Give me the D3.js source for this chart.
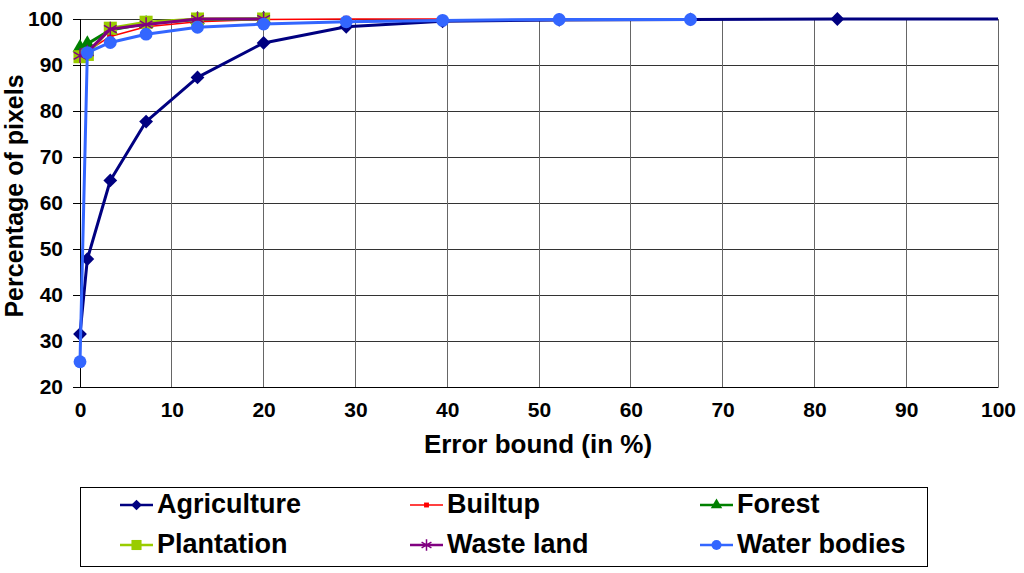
<!DOCTYPE html>
<html>
<head>
<meta charset="utf-8">
<script src="https://cdn.jsdelivr.net/npm/d3@7"></script>
<style>
  html, body { margin: 0; padding: 0; background: #fff; }
  svg { display: block; font-family: "Liberation Sans", Arial, sans-serif; font-weight: bold; }
</style>
</head>
<body>
<svg id="chart" width="1024" height="573"></svg>
<script>
// ---- data ----
const seriesNames = ["Agriculture", "Builtup", "Forest", "Plantation", "Waste land", "Water bodies"];
const agricultureX = [0, 0.8, 3.3, 7.2, 12.8, 20, 29, 39.5, 52.2, 66.5, 82.5, 100];
const agricultureY = [31.5, 47.8, 64.9, 77.7, 87.3, 94.8, 98.3, 99.5, 99.8, 99.9, 100, 100];
const builtupX = [0, 0.8, 3.3, 7.2, 12.8, 20, 29, 39.5];
const builtupY = [92.0, 93.0, 96.2, 98.3, 99.4, 99.9, 100, 100];
const forestX = [0, 0.8, 3.3, 7.2, 12.8, 20];
const forestY = [93.8, 94.6, 97.6, 99.0, 99.9, 100];
const plantationX = [0, 0.8, 3.3, 7.2, 12.8, 20];
const plantationY = [91.8, 92.3, 98.0, 99.3, 100, 100];
const wastelandX = [0, 0.8, 3.3, 7.2, 12.8, 20];
const wastelandY = [92.0, 92.8, 97.8, 98.8, 100, 100];
const waterX = [0, 0.8, 3.3, 7.2, 12.8, 20, 29, 39.5, 52.2, 66.5];
const waterY = [25.5, 92.7, 94.9, 96.7, 98.2, 98.9, 99.4, 99.7, 99.9, 99.9];
const xTicks = [0, 10, 20, 30, 40, 50, 60, 70, 80, 90, 100];
const yTicks = [20, 30, 40, 50, 60, 70, 80, 90, 100];
const xTitle = "Error bound (in %)";
const yTitle = "Percentage of pixels";

// ---- styles ----
const styles = {
  "Agriculture":  { color: "#000080", width: 3,   symbol: d3.symbolSquare,   size: 95,  rot: 45, stroke: null },
  "Builtup":      { color: "#FF0000", width: 1.5, symbol: d3.symbolSquare,   size: 40,  rot: 0,  stroke: null },
  "Forest":       { color: "#008000", width: 3,   symbol: d3.symbolTriangle, size: 95,  rot: 0,  stroke: null },
  "Plantation":   { color: "#99CC00", width: 3,   symbol: d3.symbolSquare,   size: 170, rot: 0,  stroke: null },
  "Waste land":   { color: "#800080", width: 3,   symbol: d3.symbolAsterisk, size: 150, rot: 0,  stroke: "#800080" },
  "Water bodies": { color: "#3366FF", width: 3,   symbol: d3.symbolCircle,   size: 130, rot: 0,  stroke: null }
};
const seriesData = [
  [agricultureX, agricultureY],
  [builtupX, builtupY],
  [forestX, forestY],
  [plantationX, plantationY],
  [wastelandX, wastelandY],
  [waterX, waterY]
].map(([xs, ys], i) => ({ name: seriesNames[i], pts: xs.map((x, j) => ({ x, y: ys[j] })) }));

const svg = d3.select("#chart");
const L = 80, R = 998, T = 19, B = 387;
const x = d3.scaleLinear().domain([0, 100]).range([L, R]);
const y = d3.scaleLinear().domain([20, 100]).range([B, T]);

// grid
svg.append("g").selectAll("line").data(yTicks).join("line")
  .attr("x1", L).attr("x2", R).attr("y1", d => y(d)).attr("y2", d => y(d))
  .attr("stroke", "#333").attr("stroke-width", 1).attr("shape-rendering", "crispEdges");
svg.append("g").selectAll("line").data(xTicks).join("line")
  .attr("x1", d => x(d)).attr("x2", d => x(d)).attr("y1", T).attr("y2", B)
  .attr("stroke", d => d === 0 ? "#000" : "#666").attr("stroke-width", 1).attr("shape-rendering", "crispEdges");

// axes
const yAxis = svg.append("g").attr("transform", `translate(${L},0)`)
  .call(d3.axisLeft(y).tickValues(yTicks).tickSize(7).tickPadding(10).tickFormat(d3.format("d")));
const xAxis = svg.append("g").attr("transform", `translate(0,${B})`)
  .call(d3.axisBottom(x).tickValues(xTicks).tickSize(0).tickPadding(23).tickFormat(d3.format("d")));
[yAxis, xAxis].forEach(a => {
  a.select(".domain").attr("stroke", "#000").attr("stroke-width", 1);
  a.selectAll(".tick line").attr("stroke", "#000");
  a.selectAll("text").attr("fill", "#000").style("font-size", "21px").style("font-weight", "bold")
    .style("font-family", "'Liberation Sans', Arial, sans-serif");
});
xAxis.selectAll("text").attr("dy", "0.35em");

// titles
svg.append("text").attr("x", 538).attr("y", 446).attr("text-anchor", "middle")
  .attr("dominant-baseline", "middle").style("font-size", "26px").text(xTitle);
svg.append("text").attr("transform", `translate(16,196) rotate(-90)`)
  .attr("text-anchor", "middle").attr("dominant-baseline", "middle")
  .style("font-size", "25px").text(yTitle);

// lines & markers
const line = d3.line().x(d => x(d.x)).y(d => y(d.y));
seriesData.forEach(s => {
  const st = styles[s.name];
  const g = svg.append("g");
  g.append("path").attr("d", line(s.pts)).attr("fill", "none")
    .attr("stroke", st.color).attr("stroke-width", st.width).attr("stroke-linejoin", "round");
  g.selectAll("path.m").data(s.pts.filter(d => d.x < 100)).join("path").attr("class", "m")
    .attr("transform", d => `translate(${x(d.x)},${y(d.y)}) rotate(${st.rot})`)
    .attr("d", d3.symbol().type(st.symbol).size(st.size))
    .attr("fill", st.stroke ? "none" : st.color)
    .attr("stroke", st.stroke || "none").attr("stroke-width", st.stroke ? 1.5 : 0);
});

// legend
svg.append("rect").attr("x", 80.5).attr("y", 487.5).attr("width", 847).attr("height", 79)
  .attr("fill", "#fff").attr("stroke", "#000").attr("stroke-width", 1);
const legCols = [120, 410, 700];
const legRows = [505, 545];
seriesNames.forEach((name, i) => {
  const st = styles[name];
  const lx = legCols[i % 3], ly = legRows[Math.floor(i / 3)];
  const g = svg.append("g").attr("transform", `translate(${lx},${ly})`);
  g.append("line").attr("x1", 0).attr("x2", 33).attr("y1", 0).attr("y2", 0)
    .attr("stroke", st.color).attr("stroke-width", st.width === 3 ? 2.5 : 1.5);
  g.append("path").attr("transform", `translate(16.5,0) rotate(${st.rot})`)
    .attr("d", d3.symbol().type(st.symbol).size(st.size * 0.6))
    .attr("fill", st.stroke ? "none" : st.color)
    .attr("stroke", st.stroke || "none").attr("stroke-width", st.stroke ? 1.5 : 0);
  g.append("text").attr("x", 37).attr("y", 1).attr("dominant-baseline", "middle")
    .style("font-size", "27px").text(name);
});
</script>
</body>
</html>
